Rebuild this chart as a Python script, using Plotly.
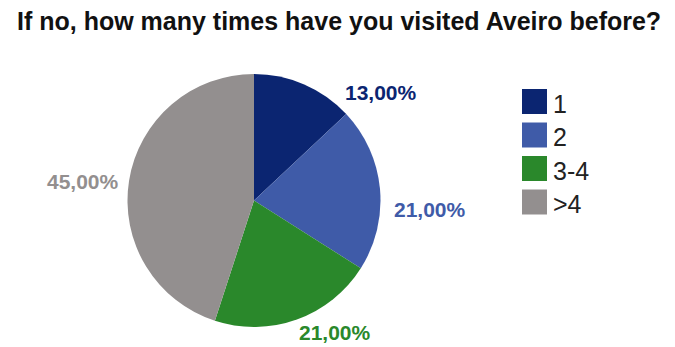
import plotly.graph_objects as go

# Survey answers: visits to Aveiro before
categories = ["1", "2", "3-4", ">4"]
shares = [13.0, 21.0, 21.0, 45.0]
colors = ["#0b2571", "#3f5ba8", "#2a882b", "#938f8f"]

W, H = 675, 347
FONT = "Liberation Sans, Arial, sans-serif"

# Pie geometry in pixels (centre and radius)
cx, cy, r = 254, 200.5, 126.5

# Where each percentage label sits (pixel centres)
label_pos = [(381, 92.5), (430, 209), (335, 332.5), (83, 181.7)]

# Legend layout in pixels
leg_x, leg_top, leg_step, box = 522, 89, 33.5, 25


def px(x):
    return x / W


def py(y):
    return 1 - y / H


fig = go.Figure(
    go.Pie(
        labels=categories,
        values=shares,
        sort=False,
        direction="clockwise",
        rotation=0,
        marker=dict(colors=colors, line=dict(width=0)),
        textinfo="none",
        hoverinfo="label+percent",
        showlegend=False,
        domain=dict(x=[px(cx - r), px(cx + r)], y=[py(cy + r), py(cy - r)]),
    )
)

annotations = [
    dict(
        text="<b>If no, how many times have you visited Aveiro before?</b>",
        x=px(338.5), y=py(21), xref="paper", yref="paper",
        xanchor="center", yanchor="middle", showarrow=False,
        font=dict(family=FONT, size=25, color="#111111"),
    )
]

total = sum(shares)
for val, col, (lx, ly) in zip(shares, colors, label_pos):
    pct = f"{val / total * 100:.2f}".replace(".", ",") + "%"
    annotations.append(dict(
        text=f"<b>{pct}</b>", x=px(lx), y=py(ly), xref="paper", yref="paper",
        xanchor="center", yanchor="middle", showarrow=False,
        font=dict(family=FONT, size=21, color=col),
    ))

shapes = []
for i, (cat, col) in enumerate(zip(categories, colors)):
    top = leg_top + i * leg_step
    shapes.append(dict(
        type="rect", xref="paper", yref="paper",
        x0=px(leg_x), x1=px(leg_x + box), y0=py(top + box), y1=py(top),
        fillcolor=col, line=dict(width=0),
    ))
    annotations.append(dict(
        text=cat, x=px(leg_x + box + 4), y=py(top + box / 2 + 2),
        xref="paper", yref="paper", xanchor="left", yanchor="middle",
        showarrow=False, font=dict(family=FONT, size=25, color="#222222"),
    ))

fig.update_layout(
    width=W, height=H,
    margin=dict(l=0, r=0, t=0, b=0),
    paper_bgcolor="white", plot_bgcolor="white",
    annotations=annotations, shapes=shapes,
)

fig.write_html("out.html")
